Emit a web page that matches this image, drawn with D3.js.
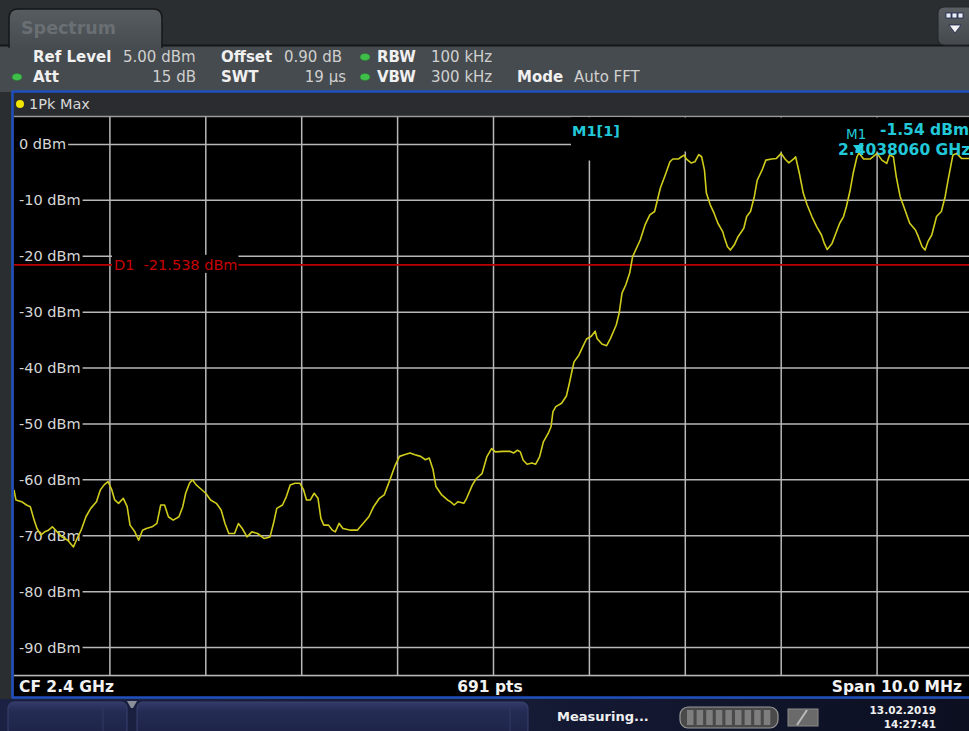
<!DOCTYPE html>
<html><head><meta charset="utf-8">
<script src="https://cdn.jsdelivr.net/npm/d3@7"></script>
<style>
html,body{margin:0;padding:0;background:#2d3033;}
svg{display:block;}
text{font-family:"DejaVu Sans",Verdana,sans-serif;}
</style></head>
<body>
<svg id="chart" width="969" height="731"></svg>
<script>
// ---- data ----
const yTickValues = [0,-10,-20,-30,-40,-50,-60,-70,-80,-90];
const yTickLabels = ["0 dBm","-10 dBm","-20 dBm","-30 dBm","-40 dBm","-50 dBm","-60 dBm","-70 dBm","-80 dBm","-90 dBm"];
const xGridValues = [-4,-3,-2,-1,0,1,2,3,4];
// frequency offset from CF (MHz)
const freqOffsetMHz = [-5.00,-4.98,-4.92,-4.87,-4.83,-4.79,-4.76,-4.72,-4.68,-4.64,-4.60,-4.55,-4.50,-4.44,-4.38,-4.35,-4.30,-4.25,-4.20,-4.14,-4.10,-4.06,-4.02,-3.98,-3.95,-3.91,-3.86,-3.82,-3.79,-3.74,-3.70,-3.66,-3.62,-3.56,-3.51,-3.47,-3.43,-3.39,-3.34,-3.28,-3.24,-3.21,-3.17,-3.14,-3.10,-3.06,-3.00,-2.95,-2.89,-2.84,-2.80,-2.76,-2.70,-2.66,-2.62,-2.57,-2.52,-2.46,-2.39,-2.33,-2.29,-2.26,-2.20,-2.16,-2.12,-2.07,-2.02,-1.98,-1.95,-1.91,-1.87,-1.83,-1.80,-1.77,-1.72,-1.68,-1.65,-1.61,-1.57,-1.49,-1.42,-1.36,-1.30,-1.25,-1.19,-1.14,-1.08,-1.03,-0.98,-0.93,-0.87,-0.82,-0.76,-0.71,-0.67,-0.63,-0.60,-0.54,-0.48,-0.45,-0.41,-0.37,-0.31,-0.28,-0.22,-0.18,-0.12,-0.07,-0.02,0.02,0.10,0.17,0.21,0.25,0.28,0.31,0.35,0.40,0.44,0.48,0.52,0.57,0.60,0.62,0.65,0.71,0.76,0.79,0.82,0.84,0.89,0.93,0.97,1.02,1.06,1.08,1.13,1.18,1.22,1.28,1.31,1.34,1.38,1.42,1.45,1.53,1.58,1.63,1.68,1.71,1.74,1.79,1.84,1.87,1.93,1.96,1.99,2.01,2.06,2.10,2.14,2.17,2.20,2.22,2.26,2.30,2.34,2.39,2.41,2.44,2.47,2.51,2.55,2.61,2.64,2.68,2.72,2.75,2.80,2.84,2.90,2.95,3.00,3.04,3.08,3.13,3.15,3.19,3.23,3.27,3.32,3.37,3.42,3.45,3.48,3.53,3.57,3.61,3.65,3.68,3.72,3.75,3.79,3.81,3.86,3.93,4.00,4.05,4.10,4.13,4.17,4.20,4.24,4.29,4.34,4.40,4.43,4.47,4.50,4.53,4.57,4.62,4.67,4.71,4.74,4.79,4.83,4.88,4.96,5.00];
// trace level (dBm), 1Pk Max
const levelDbm = [-61.8,-63.6,-63.9,-64.5,-64.8,-67.2,-68.7,-69.9,-69.3,-69.0,-68.4,-69.3,-70.2,-70.8,-72.0,-70.8,-69.0,-66.6,-65.1,-63.9,-61.8,-60.9,-60.3,-61.8,-63.6,-64.2,-63.3,-64.8,-68.1,-69.3,-70.8,-69.0,-68.7,-68.4,-67.8,-64.5,-64.5,-66.6,-67.2,-66.6,-64.8,-62.4,-60.6,-60.0,-60.9,-61.5,-62.4,-63.6,-64.2,-65.4,-67.8,-69.6,-69.6,-67.8,-68.7,-70.2,-69.3,-69.6,-70.5,-70.2,-67.5,-65.1,-64.5,-63.0,-60.9,-60.6,-60.6,-61.8,-63.6,-63.6,-62.4,-63.3,-66.9,-68.1,-68.1,-69.0,-69.3,-67.8,-68.7,-69.0,-69.0,-67.8,-66.6,-64.8,-63.3,-62.7,-60.0,-57.6,-55.8,-55.5,-55.2,-55.5,-55.8,-56.4,-56.1,-58.2,-61.2,-62.7,-63.6,-63.9,-64.5,-63.9,-64.2,-63.3,-60.9,-59.8,-58.9,-55.9,-54.4,-55.0,-54.9,-54.9,-55.2,-54.7,-55.0,-56.5,-57.2,-57.0,-57.2,-55.9,-53.2,-51.7,-50.5,-47.8,-46.9,-46.3,-45.0,-42.8,-40.4,-38.9,-37.7,-36.2,-34.8,-34.3,-33.4,-34.7,-35.7,-36.0,-34.7,-32.3,-30.2,-26.6,-25.1,-23.0,-20.1,-17.1,-14.4,-12.6,-12.0,-9.9,-7.8,-5.5,-3.1,-2.6,-2.6,-2.2,-1.9,-2.6,-3.3,-3.1,-1.8,-2.2,-4.6,-8.7,-10.8,-12.3,-14.1,-15.6,-16.8,-18.3,-18.9,-18.0,-16.5,-15.0,-12.9,-12.0,-9.3,-6.4,-4.6,-2.8,-2.6,-2.5,-1.6,-2.6,-3.3,-2.6,-2.2,-5.2,-8.7,-10.8,-12.9,-14.7,-16.2,-17.7,-18.8,-17.7,-15.9,-14.1,-12.9,-11.1,-8.1,-5.2,-2.2,-1.54,-2.6,-2.6,-1.6,-2.8,-3.4,-1.9,-2.2,-5.8,-9.3,-11.7,-14.1,-15.3,-16.5,-18.3,-18.9,-17.4,-16.2,-12.9,-12.0,-9.3,-6.4,-1.9,-1.6,-2.5,-2.5,-2.4];
const displayLineDbm = -21.538;
const markerFreqMHz = 3.806;
const markerLevelDbm = -1.54;
const headerRow1 = [["Ref Level","5.00 dBm"],["Offset","0.90 dB"],["RBW","100 kHz"]];
const headerRow2 = [["Att","15 dB"],["SWT","19 µs"],["VBW","300 kHz"],["Mode","Auto FFT"]];

// ---- drawing ----
const svg = d3.select("#chart");
const W = 969, H = 731;
const plot = {x0:14, x1:973, y0:116.5, y1:675.5};
const x = d3.scaleLinear().domain([-5,5]).range([plot.x0, plot.x1]);
const y = d3.scaleLinear().domain([5,-95]).range([plot.y0, plot.y1]);

const defs = svg.append("defs");
const tabG = defs.append("linearGradient").attr("id","tabG").attr("x1",0).attr("x2",0).attr("y1",0).attr("y2",1);
tabG.append("stop").attr("offset","0").attr("stop-color","#575c60");
tabG.append("stop").attr("offset","1").attr("stop-color","#474c50");
const btnG = defs.append("linearGradient").attr("id","btnG").attr("x1",0).attr("x2",0).attr("y1",0).attr("y2",1);
btnG.append("stop").attr("offset","0").attr("stop-color","#5a5f63");
btnG.append("stop").attr("offset","1").attr("stop-color","#44494d");
const barG = defs.append("linearGradient").attr("id","barG").attr("x1",0).attr("x2",1).attr("y1",0).attr("y2",0);
barG.append("stop").attr("offset","0").attr("stop-color","#1b2142");
barG.append("stop").attr("offset","0.55").attr("stop-color","#151a35");
barG.append("stop").attr("offset","1").attr("stop-color","#0c0f20");
const panG = defs.append("linearGradient").attr("id","panG").attr("x1",0).attr("x2",0).attr("y1",0).attr("y2",1);
panG.append("stop").attr("offset","0").attr("stop-color","#343b68");
panG.append("stop").attr("offset","0.25").attr("stop-color","#252c55");
panG.append("stop").attr("offset","1").attr("stop-color","#1d2346");
defs.append("clipPath").attr("id","plotClip").append("rect")
  .attr("x",plot.x0).attr("y",plot.y0).attr("width",plot.x1-plot.x0).attr("height",plot.y1-plot.y0);

// top bar
svg.append("rect").attr("x",0).attr("y",0).attr("width",W).attr("height",46).attr("fill","#2b2e31");
// info area
svg.append("rect").attr("x",0).attr("y",45).attr("width",W).attr("height",47).attr("fill","#464b4f");
svg.append("line").attr("x1",0).attr("x2",W).attr("y1",45.5).attr("y2",45.5).attr("stroke","#141618").attr("stroke-width",2);
// tab
svg.append("path").attr("d","M9,47 L9,18 Q9,9 18,9 L153,9 Q162,9 162,18 L162,47 Z")
  .attr("fill","url(#tabG)").attr("stroke","#151719").attr("stroke-width",1.5);
svg.append("rect").attr("x",10).attr("y",44).attr("width",151).attr("height",4).attr("fill","#474c50");
svg.append("text").attr("x",21).attr("y",34).attr("fill","#6a6f73").attr("font-size",17.5).attr("font-weight","bold").text("Spectrum");
// menu button
svg.append("rect").attr("x",938).attr("y",7).attr("width",36).attr("height",38).attr("rx",6).attr("fill","url(#btnG)").attr("stroke","#24272a");
[946,952,958].forEach(bx=>svg.append("rect").attr("x",bx).attr("y",13).attr("width",5).attr("height",5).attr("fill","#e8ecf4").attr("stroke","#1c2450").attr("stroke-width",0.8));
svg.append("path").attr("d","M949,25 L961,25 L955,33 Z").attr("fill","#f2f2f2").attr("stroke","#1c2450").attr("stroke-width",0.8);

// header text
function hdr(xl, yb, label, xv, val, anchorEnd){
  svg.append("text").attr("x",xl).attr("y",yb).attr("fill","#f0f0f0").attr("font-size",15).attr("font-weight","bold").text(label);
  svg.append("text").attr("x",xv).attr("y",yb).attr("fill","#d0d0d0").attr("font-size",15)
    .attr("text-anchor",anchorEnd?"end":"start").text(val);
}
hdr(33,62,headerRow1[0][0],123,headerRow1[0][1]);
hdr(221,62,headerRow1[1][0],284,headerRow1[1][1]);
hdr(377,62,headerRow1[2][0],431,headerRow1[2][1]);
hdr(33,82,headerRow2[0][0],196,headerRow2[0][1],true);
hdr(221,82,headerRow2[1][0],346,headerRow2[1][1],true);
hdr(377,82,headerRow2[2][0],431,headerRow2[2][1]);
hdr(517,82,headerRow2[3][0],574,headerRow2[3][1]);
[[365,57],[17,77],[365,77]].forEach(([cx,cy])=>svg.append("ellipse").attr("cx",cx).attr("cy",cy).attr("rx",5).attr("ry",3.6).attr("fill","#3fbf4a").attr("stroke","#2a7a30").attr("stroke-width",0.6));

// window frame
svg.append("rect").attr("x",12).attr("y",92).attr("width",W).attr("height",606).attr("fill","#2a2c2f");
svg.append("rect").attr("x",0).attr("y",92).attr("width",11).attr("height",608).attr("fill","#2b2e31");
// trace label
svg.append("circle").attr("cx",20).attr("cy",104).attr("r",4).attr("fill","#f2e600");
svg.append("text").attr("x",29).attr("y",109).attr("fill","#d8d8d8").attr("font-size",14.5).text("1Pk Max");

// plot
svg.append("rect").attr("x",plot.x0).attr("y",plot.y0).attr("width",W-plot.x0).attr("height",plot.y1-plot.y0).attr("fill","#000");
svg.append("line").attr("x1",plot.x0).attr("x2",W).attr("y1",plot.y0).attr("y2",plot.y0).attr("stroke","#9a9a9a").attr("stroke-width",1.5);
// footer row
svg.append("rect").attr("x",plot.x0).attr("y",plot.y1+1).attr("width",W-plot.x0).attr("height",20.5).attr("fill","#000");

const grid = svg.append("g").attr("clip-path","url(#plotClip)");
grid.selectAll("line.v").data(xGridValues).join("line").attr("class","v")
  .attr("x1",d=>x(d)).attr("x2",d=>x(d)).attr("y1",plot.y0).attr("y2",plot.y1)
  .attr("stroke","#b8b8b8").attr("stroke-width",1.5);
grid.selectAll("line.h").data(yTickValues).join("line").attr("class","h")
  .attr("x1",plot.x0).attr("x2",plot.x1).attr("y1",d=>y(d)).attr("y2",d=>y(d))
  .attr("stroke","#b8b8b8").attr("stroke-width",1.5);
svg.append("line").attr("x1",plot.x0).attr("x2",W).attr("y1",plot.y1).attr("y2",plot.y1).attr("stroke","#b8b8b8").attr("stroke-width",1.5);

// y labels with black background
const yl = svg.append("g");
yTickValues.forEach((v,i)=>{
  const t = yl.append("text").attr("x",19).attr("y",y(v)+5).attr("fill","#d6d6d6").attr("font-size",14.5).text(yTickLabels[i]);
  const bb = t.node().getBBox();
  yl.insert("rect","text").attr("x",plot.x0).attr("y",y(v)-2).attr("width",bb.x+bb.width+2-plot.x0).attr("height",4).attr("fill","#000");
});

// marker info area background (hides grid)
svg.append("rect").attr("x",571).attr("y",plot.y0+1).attr("width",W-571).attr("height",34).attr("fill","#000");
svg.append("rect").attr("x",571).attr("y",plot.y0+1).attr("width",60).attr("height",43).attr("fill","#000");

// display line D1
const dY = y(displayLineDbm);
svg.append("line").attr("x1",plot.x0).attr("x2",W).attr("y1",dY).attr("y2",dY).attr("stroke","#b80000").attr("stroke-width",1.6);
const dBox = svg.append("rect").attr("x",112).attr("y",dY-10).attr("height",18).attr("fill","#000");
const dTxt = svg.append("text").attr("x",114).attr("y",dY+5).attr("fill","#c80000").attr("font-size",14.5)
  .attr("xml:space","preserve").text("D1  -21.538 dBm");
const dbb = dTxt.node().getBBox();
dBox.attr("width", dbb.x + dbb.width + 1 - 112);

// trace
const pts = freqOffsetMHz.map((f,i)=>[f, levelDbm[i]]);
svg.append("g").attr("clip-path","url(#plotClip)").append("path")
  .attr("d", d3.line().x(d=>x(d[0])).y(d=>y(d[1]))(pts))
  .attr("fill","none").attr("stroke","#cfcc1c").attr("stroke-width",1.6).attr("stroke-linejoin","round");

// frame border drawn on top
svg.append("line").attr("x1",12).attr("x2",W).attr("y1",91.5).attr("y2",91.5).attr("stroke","#1f4fbf").attr("stroke-width",2.5);
svg.append("line").attr("x1",12.5).attr("x2",12.5).attr("y1",91).attr("y2",698).attr("stroke","#1f4fbf").attr("stroke-width",2.5);
svg.append("line").attr("x1",12).attr("x2",W).attr("y1",697.5).attr("y2",697.5).attr("stroke","#1f4fbf").attr("stroke-width",2.5);

// marker
const mx = x(markerFreqMHz), my = y(markerLevelDbm);
svg.append("text").attr("x",572).attr("y",136).attr("fill","#22c8d8").attr("font-size",14.5).attr("font-weight","bold").text("M1[1]");
svg.append("text").attr("x",846).attr("y",139).attr("fill","#22c8d8").attr("font-size",13.5).text("M1");
svg.append("text").attr("x",880).attr("y",135).attr("fill","#22c8d8").attr("font-size",15.5).attr("font-weight","bold").text("-1.54 dBm");
svg.append("text").attr("x",838).attr("y",155).attr("fill","#22c8d8").attr("font-size",15.5).attr("font-weight","bold").text("2.4038060 GHz");
svg.append("path").attr("d",`M${mx-5.5},${my-8} L${mx+5.5},${my-8} L${mx},${my} Z`).attr("fill","#22d0e0");

// footer text
svg.append("text").attr("x",19).attr("y",692).attr("fill","#f2f2f2").attr("font-size",15.5).attr("font-weight","bold").text("CF 2.4 GHz");
svg.append("text").attr("x",490).attr("y",692).attr("fill","#f2f2f2").attr("font-size",15.5).attr("font-weight","bold").attr("text-anchor","middle").text("691 pts");
svg.append("text").attr("x",962).attr("y",692).attr("fill","#f2f2f2").attr("font-size",15.5).attr("font-weight","bold").attr("text-anchor","end").text("Span 10.0 MHz");

// status bar
svg.append("rect").attr("x",0).attr("y",699).attr("width",W).attr("height",32).attr("fill","url(#barG)");
svg.append("rect").attr("x",8).attr("y",702).attr("width",119).attr("height",34).attr("rx",6).attr("fill","url(#panG)").attr("stroke","#3a4170");
svg.append("rect").attr("x",137).attr("y",702).attr("width",391).attr("height",34).attr("rx",6).attr("fill","url(#panG)").attr("stroke","#3a4170");
svg.append("path").attr("d","M127,701 L137,701 L133,708 L131,708 Z").attr("fill","#8a8f9a");
svg.append("line").attr("x1",103).attr("x2",103).attr("y1",708).attr("y2",731).attr("stroke","#303865");
svg.append("line").attr("x1",510).attr("x2",510).attr("y1",708).attr("y2",731).attr("stroke","#303865");
svg.append("text").attr("x",557).attr("y",721).attr("fill","#f0f0f0").attr("font-size",13).attr("font-weight","bold")
  .attr("font-family","'DejaVu Sans Condensed','Liberation Sans Narrow',sans-serif").text("Measuring...");
svg.append("rect").attr("x",680).attr("y",707).attr("width",98).attr("height",21).attr("rx",8).attr("fill","#4a4a4a").attr("stroke","#9a9a9a").attr("stroke-width",1.2);
d3.range(9).forEach(i=>svg.append("rect").attr("x",687+i*9.6).attr("y",710).attr("width",6.5).attr("height",15).attr("fill","#7e7e7e"));
svg.append("rect").attr("x",788).attr("y",709).attr("width",30).attr("height",17).attr("fill","#6a6a6a").attr("stroke","#8a8a8a");
svg.append("path").attr("d","M797,725 L807,710").attr("stroke","#bbbbbb").attr("stroke-width",2);
svg.append("text").attr("x",936).attr("y",714).attr("fill","#f0f0f0").attr("font-size",10.5).attr("font-weight","bold").attr("text-anchor","end")
  .attr("font-family","'DejaVu Sans Condensed','Liberation Sans Narrow',sans-serif").text("13.02.2019");
svg.append("text").attr("x",936).attr("y",728).attr("fill","#f0f0f0").attr("font-size",10.5).attr("font-weight","bold").attr("text-anchor","end")
  .attr("font-family","'DejaVu Sans Condensed','Liberation Sans Narrow',sans-serif").text("14:27:41");
</script>
</body></html>
